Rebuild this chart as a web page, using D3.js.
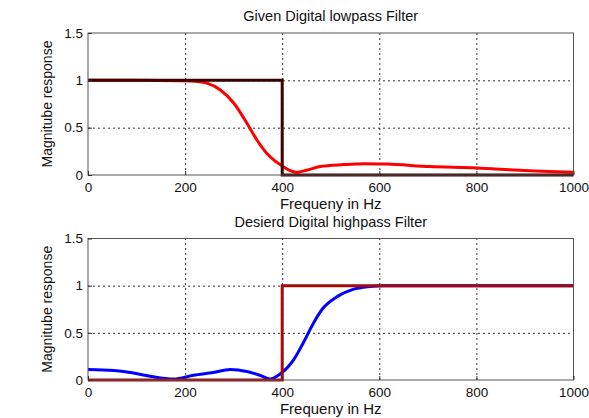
<!DOCTYPE html>
<html>
<head>
<meta charset="utf-8">
<script src="https://cdn.jsdelivr.net/npm/d3@7"></script>
<style>
  body { margin: 0; background: #fff; }
  svg text { font-family: "Liberation Sans", Arial, sans-serif; fill: #111; }
  .tick text { font-size: 13.5px; }
  .grid line { stroke: #333; stroke-dasharray: 2,3; }
</style>
</head>
<body>
<svg id="chart" width="589" height="418"></svg>
<script>
// frequency grid + magnitude
var lowFreq = [0, 100, 190, 220, 245, 272, 300, 327, 348, 368, 385, 402, 415, 430, 450, 478, 526, 570, 615, 704, 800, 889, 1000];
var lowMag  = [1, 1, 0.995, 0.99, 0.97, 0.90, 0.76, 0.55, 0.37, 0.23, 0.15, 0.09, 0.05, 0.03, 0.05, 0.09, 0.11, 0.12, 0.115, 0.09, 0.075, 0.05, 0.03];

var highFreq = [0, 53, 87, 128, 176, 217, 258, 293, 327, 354, 375, 395, 423, 443, 464, 484, 512, 546, 580, 610, 1000];
var highMag  = [0.11, 0.10, 0.08, 0.04, 0.01, 0.05, 0.08, 0.11, 0.09, 0.05, 0.01, 0.06, 0.21, 0.39, 0.60, 0.76, 0.88, 0.96, 0.99, 1.0, 1.0];

// ideal responses
var idealFreq = [0, 400, 400, 1000];
var idealLow  = [1, 1, 0, 0];
var idealHigh = [0, 0, 1, 1];

var xTicks = [0, 200, 400, 600, 800, 1000];
var yTicks = [0, 0.5, 1, 1.5];

var svg = d3.select('#chart');
var left = 88, right = 573.5;

var panels = [
    {top: 33, bottom: 175, title: 'Given Digital lowpass Filter', titleY: 21, xlabY: 209,
     curve: {f: lowFreq, m: lowMag, color: '#ff0000'},
     ideal: {f: idealFreq, m: idealLow, color: '#3c0000'}},
    {top: 238.5, bottom: 380, title: 'Desierd Digital highpass Filter', titleY: 227, xlabY: 414,
     curve: {f: highFreq, m: highMag, color: '#0000ff'},
     ideal: {f: idealFreq, m: idealHigh, color: '#a50a0a'}}
];

panels.forEach(p => {
    var x = d3.scaleLinear().domain([0, 1000]).range([left, right]);
    var y = d3.scaleLinear().domain([0, 1.5]).range([p.bottom, p.top]);
    var h = p.bottom - p.top, w = right - left;
    var g = svg.append('g');

    // grid
    g.append('g').attr('class', 'grid')
        .attr('transform', `translate(0,${p.bottom})`)
        .call(d3.axisBottom(x).tickValues([200, 400, 600, 800]).tickSize(-h).tickFormat(''))
        .call(s => s.select('.domain').remove());
    g.append('g').attr('class', 'grid')
        .attr('transform', `translate(${left},0)`)
        .call(d3.axisLeft(y).tickValues([0.5, 1]).tickSize(-w).tickFormat(''))
        .call(s => s.select('.domain').remove());

    var line = d3.line().x(d => x(d[0])).y(d => y(d[1]));

    g.append('path')
        .datum(d3.zip(p.curve.f, p.curve.m))
        .attr('d', line.curve(d3.curveMonotoneX))
        .attr('fill', 'none')
        .attr('stroke', p.curve.color)
        .attr('stroke-width', 3)
        .attr('stroke-linejoin', 'round');

    g.append('path')
        .datum(d3.zip(p.ideal.f, p.ideal.m))
        .attr('d', line.curve(d3.curveLinear))
        .attr('fill', 'none')
        .attr('stroke', p.ideal.color)
        .attr('stroke-width', 3);

    // box
    g.append('rect')
        .attr('x', left).attr('y', p.top)
        .attr('width', w).attr('height', h)
        .attr('fill', 'none').attr('stroke', '#555').attr('stroke-width', 1);

    var ax = g.append('g')
        .attr('transform', `translate(0,${p.bottom})`)
        .call(d3.axisBottom(x).tickValues(xTicks).tickSizeInner(-4).tickSizeOuter(0).tickPadding(7)
            .tickFormat(d => String(d)));
    ax.select('.domain').remove();
    ax.selectAll('line').attr('stroke', '#333');
    ax.selectAll('text').attr('fill', '#111');

    var ay = g.append('g')
        .attr('transform', `translate(${left},0)`)
        .call(d3.axisLeft(y).tickValues(yTicks).tickSizeInner(-4).tickSizeOuter(0).tickPadding(5)
            .tickFormat(d => String(d)));
    ay.select('.domain').remove();
    ay.selectAll('line').attr('stroke', '#333');
    ay.selectAll('text').attr('fill', '#111');

    g.append('text').text(p.title)
        .attr('x', (left + right) / 2).attr('y', p.titleY)
        .attr('text-anchor', 'middle').style('font-size', '14.5px');
    g.append('text').text('Frequeny in Hz')
        .attr('x', (left + right) / 2).attr('y', p.xlabY)
        .attr('text-anchor', 'middle').style('font-size', '15px');
    g.append('text').text('Magnitube response')
        .attr('transform', `translate(52,${(p.top + p.bottom) / 2}) rotate(-90)`)
        .attr('text-anchor', 'middle').style('font-size', '14px');
});
</script>
</body>
</html>
